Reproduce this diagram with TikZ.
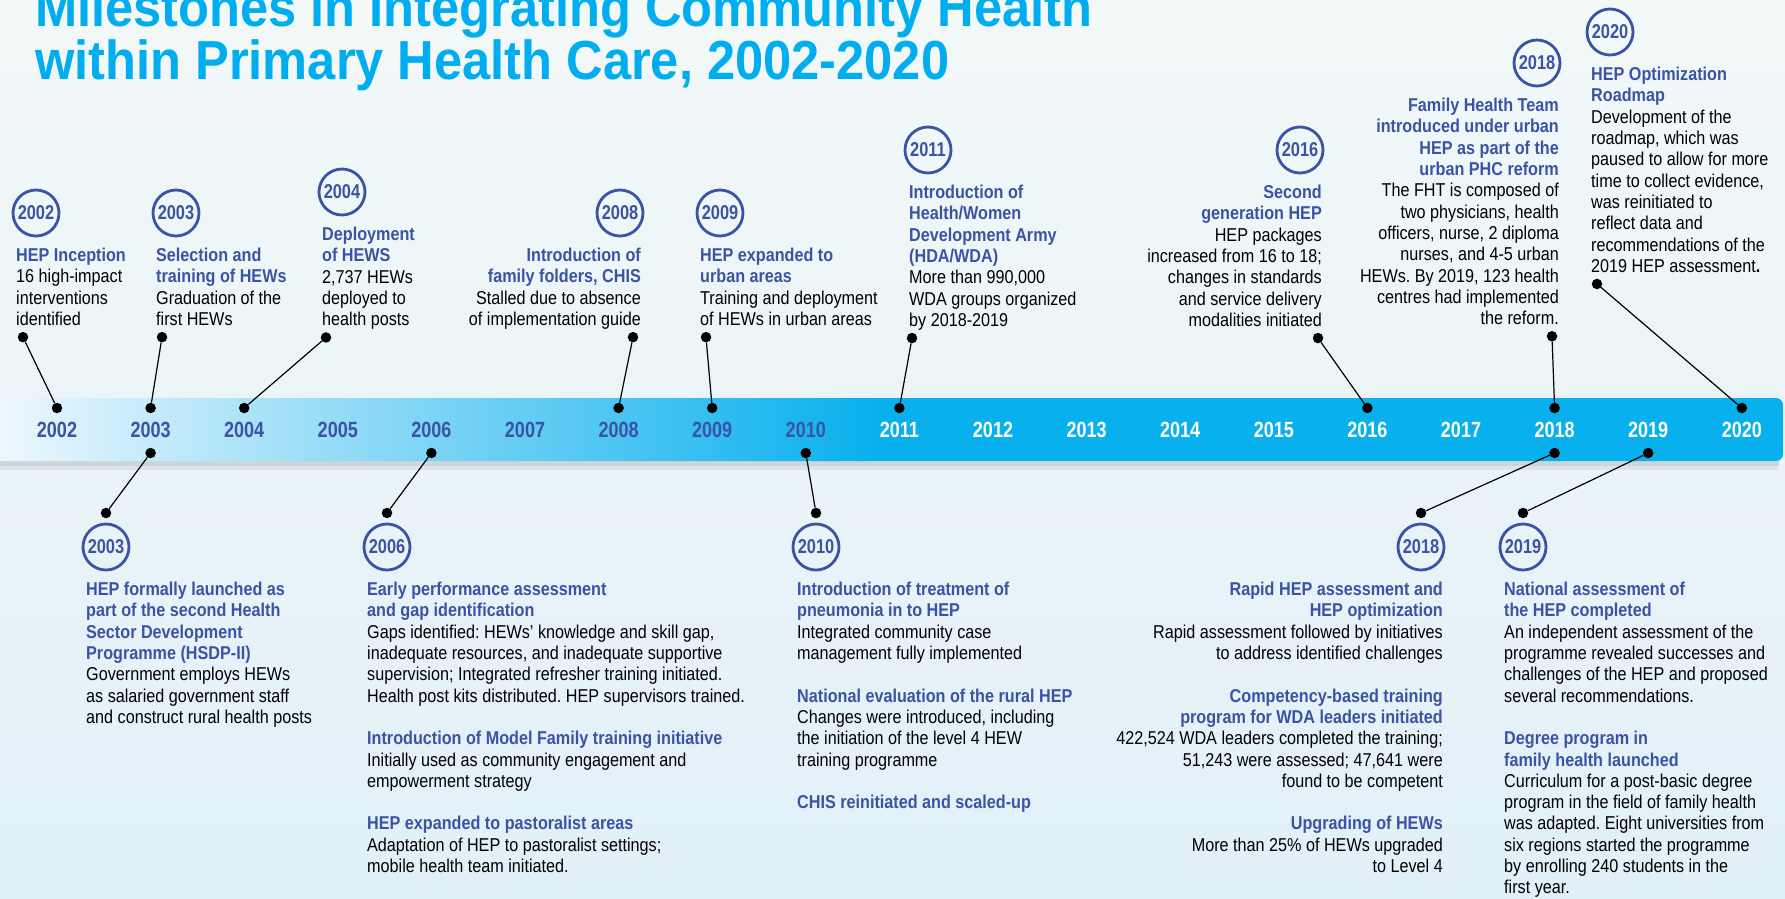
\documentclass[tikz,border=0pt]{standalone}
\usepackage{fontspec}
\setmainfont{Liberation Sans}[FakeStretch=0.87]
\newfontfamily\headfont{Liberation Sans}[FakeStretch=0.92]
\newfontfamily\yearfont{Liberation Sans}[FakeStretch=0.82]
\usetikzlibrary{positioning}

\definecolor{hepblue}{HTML}{3B53A4}
\definecolor{titlecyan}{HTML}{00AEEF}
\definecolor{bandcyan}{HTML}{08B0EE}
\definecolor{bandlight}{HTML}{ECF7FD}
\definecolor{bgtop}{HTML}{F3F8F8}
\definecolor{bgbot}{HTML}{E1F0F8}

\pgfdeclarehorizontalshading{bandshade}{100bp}{color(0bp)=(bandlight); color(25bp)=(bandlight); color(49.6bp)=(bandcyan); color(100bp)=(bandcyan)}

\newcommand{\evhead}[1]{{\color{hepblue}\bfseries #1}}

\tikzstyle{event} = [inner sep=0pt, align=left, font=\fontsize{18.6}{21.3}\selectfont\frenchspacing, execute at begin node=\strut, execute at end node=\strut]
\tikzstyle{eventr} = [event, align=right]
\tikzstyle{yearring} = [circle, draw=hepblue, line width=2.8pt, minimum size=46pt, inner sep=0pt, text=hepblue, font=\yearfont\fontsize{20}{20}\selectfont\bfseries]
\tikzstyle{yearlbl} = [inner sep=0pt, on grid, text=hepblue, font=\yearfont\fontsize{22}{22}\selectfont\bfseries]
\tikzstyle{yearlblw} = [yearlbl, text=white]
\tikzstyle{knob} = [circle, fill=black, minimum size=10.5pt, inner sep=0pt]
\tikzstyle{stem} = [line width=1.2pt]
\tikzstyle{headline} = [inner sep=0pt, text=titlecyan, font=\headfont\fontsize{55}{53}\selectfont\bfseries]

\begin{document}
\begin{tikzpicture}[x=1pt, y=-1pt, node distance=93.6pt]
\useasboundingbox (0,0) rectangle (1785,898);
% background and band
\shade[top color=bgtop, bottom color=bgbot] (0,0) rectangle (1785,898);
\fill[black, opacity=0.12] (0,461) rectangle (1779,466);
\fill[black, opacity=0.06] (0,466) rectangle (1777,470);
\shade[shading=bandshade] (0,398) [rounded corners=7pt] -- (1783,398) -- (1783,461) [sharp corners] -- (0,461) -- cycle;

% title
\node[headline, anchor=base west] (title1) at (35,26) {Milestones in Integrating Community Health};
\node[headline, anchor=base west] (title2) at (35,79) {within Primary Health Care, 2002-2020};

% years on the band
\node[yearlbl] (y2002) at (57,430) {2002};
\node[yearlbl, right=of y2002] (y2003) {2003};
\node[yearlbl, right=of y2003] (y2004) {2004};
\node[yearlbl, right=of y2004] (y2005) {2005};
\node[yearlbl, right=of y2005] (y2006) {2006};
\node[yearlbl, right=of y2006] (y2007) {2007};
\node[yearlbl, right=of y2007] (y2008) {2008};
\node[yearlbl, right=of y2008] (y2009) {2009};
\node[yearlbl, right=of y2009] (y2010) {2010};
\node[yearlblw, right=of y2010] (y2011) {2011};
\node[yearlblw, right=of y2011] (y2012) {2012};
\node[yearlblw, right=of y2012] (y2013) {2013};
\node[yearlblw, right=of y2013] (y2014) {2014};
\node[yearlblw, right=of y2014] (y2015) {2015};
\node[yearlblw, right=of y2015] (y2016) {2016};
\node[yearlblw, right=of y2016] (y2017) {2017};
\node[yearlblw, right=of y2017] (y2018) {2018};
\node[yearlblw, right=of y2018] (y2019) {2019};
\node[yearlblw, right=of y2019] (y2020) {2020};

% dots on the band
\node[knob, on grid, above=22pt of y2002] (bt2002) {};
\node[knob, on grid, above=22pt of y2003] (bt2003) {};
\node[knob, on grid, above=22pt of y2004] (bt2004) {};
\node[knob, on grid, above=22pt of y2008] (bt2008) {};
\node[knob, on grid, above=22pt of y2009] (bt2009) {};
\node[knob, on grid, above=22pt of y2011] (bt2011) {};
\node[knob, on grid, above=22pt of y2016] (bt2016) {};
\node[knob, on grid, above=22pt of y2018] (bt2018) {};
\node[knob, on grid, above=22pt of y2020] (bt2020) {};
\node[knob, on grid, below=23pt of y2003] (bb2003) {};
\node[knob, on grid, below=23pt of y2006] (bb2006) {};
\node[knob, on grid, below=23pt of y2010] (bb2010) {};
\node[knob, on grid, below=23pt of y2018] (bb2018) {};
\node[knob, on grid, below=23pt of y2019] (bb2019) {};

% milestones above the band
\node[event, anchor=north west] (e2002) at (16,248) {\evhead{HEP Inception}\\16 high-impact\\interventions\\identified};
\node[yearring] (c2002) at ([shift={(20,-35)}]e2002.north west) {2002};
\node[knob] (d2002) at ([shift={(7,5)}]e2002.south west) {};
\draw[stem] (d2002) -- (bt2002);

\node[event, anchor=north west] (e2003) at (156,248) {\evhead{Selection and}\\\evhead{training of HEWs}\\Graduation of the\\first HEWs};
\node[yearring] (c2003) at ([shift={(20,-35)}]e2003.north west) {2003};
\node[knob] (d2003) at ([shift={(6,5)}]e2003.south west) {};
\draw[stem] (d2003) -- (bt2003);

\node[event, anchor=north west] (e2004) at (322,227) {\evhead{Deployment}\\\evhead{of HEWS}\\2,737 HEWs\\deployed to\\health posts};
\node[yearring] (c2004) at ([shift={(20,-35)}]e2004.north west) {2004};
\node[knob] (d2004) at ([shift={(4,5)}]e2004.south west) {};
\draw[stem] (d2004) -- (bt2004);

\node[eventr, anchor=north east] (e2008) at (641,248) {\evhead{Introduction of}\\\evhead{family folders, CHIS}\\Stalled due to absence\\of implementation guide};
\node[yearring] (c2008) at ([shift={(-21,-35)}]e2008.north east) {2008};
\node[knob] (d2008) at ([shift={(-8,5)}]e2008.south east) {};
\draw[stem] (d2008) -- (bt2008);

\node[event, anchor=north west] (e2009) at (700,248) {\evhead{HEP expanded to}\\\evhead{urban areas}\\Training and deployment\\of HEWs in urban areas};
\node[yearring] (c2009) at ([shift={(20,-35)}]e2009.north west) {2009};
\node[knob] (d2009) at ([shift={(6,5)}]e2009.south west) {};
\draw[stem] (d2009) -- (bt2009);

\node[event, anchor=north west] (e2011) at (909,185) {\evhead{Introduction of}\\\evhead{Health/Women}\\\evhead{Development Army}\\\evhead{(HDA/WDA)}\\More than 990,000\\WDA groups organized\\by 2018-2019};
\node[yearring] (c2011) at ([shift={(19,-35)}]e2011.north west) {2011};
\node[knob] (d2011) at ([shift={(3,5)}]e2011.south west) {};
\draw[stem] (d2011) -- (bt2011);

\node[eventr, anchor=north east] (e2016) at (1322,185) {\evhead{Second}\\\evhead{generation HEP}\\HEP packages\\increased from 16 to 18;\\changes in standards\\and service delivery\\modalities initiated};
\node[yearring] (c2016) at ([shift={(-22,-35)}]e2016.north east) {2016};
\node[knob] (d2016) at ([shift={(-4,5)}]e2016.south east) {};
\draw[stem] (d2016) -- (bt2016);

\node[eventr, anchor=north east] (e2018) at (1559,98) {\evhead{Family Health Team}\\\evhead{introduced under urban}\\\evhead{HEP as part of the}\\\evhead{urban PHC reform}\\The FHT is composed of\\two physicians, health\\officers, nurse, 2 diploma\\nurses, and 4-5 urban\\HEWs. By 2019, 123 health\\centres had implemented\\the reform.};
\node[yearring] (c2018) at ([shift={(-22,-35)}]e2018.north east) {2018};
\node[knob] (d2018) at ([shift={(-7,5)}]e2018.south east) {};
\draw[stem] (d2018) -- (bt2018);

\node[event, anchor=north west] (e2020) at (1591,67) {\evhead{HEP Optimization}\\\evhead{Roadmap}\\Development of the\\roadmap, which was\\paused to allow for more\\time to collect evidence,\\was reinitiated to\\reflect data and\\recommendations of the\\2019 HEP assessment\textbf{.}};
\node[yearring] (c2020) at ([shift={(19,-35)}]e2020.north west) {2020};
\node[knob] (d2020) at ([shift={(6,5)}]e2020.south west) {};
\draw[stem] (d2020) -- (bt2020);

% milestones below the band
\node[event, anchor=north west] (f2003) at (86,582) {\evhead{HEP formally launched as}\\\evhead{part of the second Health}\\\evhead{Sector Development}\\\evhead{Programme (HSDP-II)}\\Government employs HEWs\\as salaried government staff\\and construct rural health posts};
\node[yearring] (g2003) at ([shift={(20,-35)}]f2003.north west) {2003};
\node[knob, on grid, above=34pt of g2003] (h2003) {};
\draw[stem] (h2003) -- (bb2003);

\node[event, anchor=north west] (f2006) at (367,582) {\evhead{Early performance assessment}\\\evhead{and gap identification}\\Gaps identified: HEWs’ knowledge and skill gap,\\inadequate resources, and inadequate supportive\\supervision; Integrated refresher training initiated.\\Health post kits distributed. HEP supervisors trained.\\[21.3pt]\evhead{Introduction of Model Family training initiative}\\Initially used as community engagement and\\empowerment strategy\\[21.3pt]\evhead{HEP expanded to pastoralist areas}\\Adaptation of HEP to pastoralist settings;\\mobile health team initiated.};
\node[yearring] (g2006) at ([shift={(20,-35)}]f2006.north west) {2006};
\node[knob, on grid, above=34pt of g2006] (h2006) {};
\draw[stem] (h2006) -- (bb2006);

\node[event, anchor=north west] (f2010) at (797,582) {\evhead{Introduction of treatment of}\\\evhead{pneumonia in to HEP}\\Integrated community case\\management fully implemented\\[21.3pt]\evhead{National evaluation of the rural HEP}\\Changes were introduced, including\\the initiation of the level 4 HEW\\training programme\\[21.3pt]\evhead{CHIS reinitiated and scaled-up}};
\node[yearring] (g2010) at ([shift={(19,-35)}]f2010.north west) {2010};
\node[knob, on grid, above=34pt of g2010] (h2010) {};
\draw[stem] (h2010) -- (bb2010);

\node[eventr, anchor=north east] (f2018) at (1443,582) {\evhead{Rapid HEP assessment and}\\\evhead{HEP optimization}\\Rapid assessment followed by initiatives\\to address identified challenges\\[21.3pt]\evhead{Competency-based training}\\\evhead{program for WDA leaders initiated}\\422,524 WDA leaders completed the training;\\51,243 were assessed; 47,641 were\\found to be competent\\[21.3pt]\evhead{Upgrading of HEWs}\\More than 25\% of HEWs upgraded\\to Level 4};
\node[yearring] (g2018) at ([shift={(-22,-35)}]f2018.north east) {2018};
\node[knob, on grid, above=34pt of g2018] (h2018) {};
\draw[stem] (h2018) -- (bb2018);

\node[event, anchor=north west] (f2019) at (1504,582) {\evhead{National assessment of}\\\evhead{the HEP completed}\\An independent assessment of the\\programme revealed successes and\\challenges of the HEP and proposed\\several recommendations.\\[21.3pt]\evhead{Degree program in}\\\evhead{family health launched}\\Curriculum for a post-basic degree\\program in the field of family health\\was adapted. Eight universities from\\six regions started the programme\\by enrolling 240 students in the\\first year.};
\node[yearring] (g2019) at ([shift={(19,-35)}]f2019.north west) {2019};
\node[knob, on grid, above=34pt of g2019] (h2019) {};
\draw[stem] (h2019) -- (bb2019);
\end{tikzpicture}
\end{document}
